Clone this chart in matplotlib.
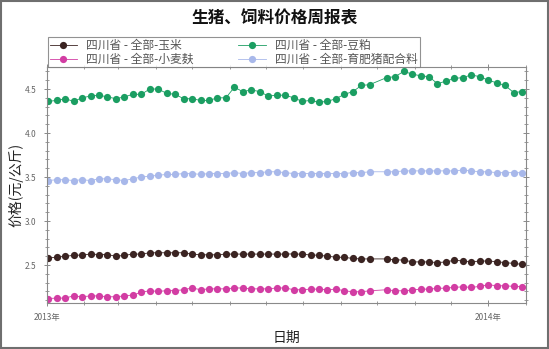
import numpy as np
import pandas as pd
import matplotlib
matplotlib.use("Agg")
import matplotlib.pyplot as plt
import matplotlib.dates as mdates
from matplotlib.patches import Rectangle

plt.rcParams['font.family'] = ['Noto Sans CJK SC', 'DejaVu Sans']

# Weekly quotations, Sichuan province (yuan / kg); None = no quote that week
start_date = "2013-01-02"
n_weeks = 57

corn = [2.58, 2.59, 2.60, 2.61, 2.615, 2.625, 2.62, 2.62, 2.60, 2.61,
        2.625, 2.625, 2.64, 2.64, 2.64, 2.64, 2.64, 2.625, 2.617, 2.617,
        2.617, 2.625, 2.625, 2.625, 2.625, 2.625, 2.625, 2.625, 2.625, 2.627,
        2.623, 2.615, 2.612, 2.60, 2.59, 2.588, 2.575, 2.57, 2.57, None,
        2.57, 2.56, 2.557, 2.536, 2.536, 2.536, 2.528, 2.536, 2.555, 2.547,
        2.538, 2.545, 2.547, 2.538, 2.528, 2.519, 2.508]

soymeal = [4.36, 4.37, 4.39, 4.36, 4.40, 4.42, 4.43, 4.41, 4.39, 4.41,
           4.44, 4.44, 4.50, 4.50, 4.45, 4.44, 4.39, 4.39, 4.37, 4.37,
           4.40, 4.40, 4.52, 4.47, 4.49, 4.47, 4.42, 4.43, 4.43, 4.40,
           4.36, 4.37, 4.35, 4.36, 4.39, 4.44, 4.47, 4.54, 4.55, None,
           4.63, 4.64, 4.70, 4.67, 4.65, 4.64, 4.56, 4.59, 4.62, 4.63,
           4.66, 4.64, 4.60, 4.57, 4.54, 4.46, 4.47]

bran = [2.12, 2.125, 2.125, 2.15, 2.14, 2.15, 2.15, 2.14, 2.14, 2.15,
        2.16, 2.19, 2.21, 2.20, 2.21, 2.21, 2.22, 2.24, 2.22, 2.23,
        2.23, 2.23, 2.24, 2.24, 2.23, 2.23, 2.23, 2.24, 2.24, 2.22,
        2.22, 2.227, 2.227, 2.22, 2.227, 2.208, 2.197, 2.197, 2.208, None,
        2.22, 2.208, 2.208, 2.216, 2.227, 2.227, 2.235, 2.239, 2.246, 2.254,
        2.246, 2.258, 2.277, 2.265, 2.265, 2.258, 2.254]

hog_feed = [3.46, 3.47, 3.47, 3.46, 3.47, 3.46, 3.48, 3.48, 3.47, 3.46,
            3.48, 3.50, 3.51, 3.52, 3.53, 3.53, 3.54, 3.54, 3.53, 3.54,
            3.54, 3.54, 3.55, 3.54, 3.55, 3.55, 3.56, 3.56, 3.55, 3.54,
            3.54, 3.54, 3.54, 3.54, 3.54, 3.54, 3.55, 3.55, 3.56, None,
            3.56, 3.56, 3.57, 3.57, 3.57, 3.57, 3.57, 3.57, 3.57, 3.58,
            3.57, 3.56, 3.56, 3.55, 3.55, 3.55, 3.55]

series_names = ["四川省 - 全部-玉米", "四川省 - 全部-小麦麸",
                "四川省 - 全部-豆粕", "四川省 - 全部-育肥猪配合料"]
series_values = [corn, bran, soymeal, hog_feed]
series_colors = ["#3b2422", "#d23da3", "#1b9e62", "#a8b8ea"]

dates = pd.date_range(start_date, periods=n_weeks, freq="7D")

fig = plt.figure(figsize=(5.49, 3.49), dpi=100)
ax = fig.add_axes([0.0856, 0.132, 0.872, 0.676])

for name, vals, col in zip(series_names, series_values, series_colors):
    s = pd.Series(vals, index=dates, dtype=float).dropna()
    ax.plot(s.index, s.values, color=col, lw=0.6, marker="o",
            markersize=5.2, markeredgewidth=0, label=name)

ax.set_xlim(pd.Timestamp("2013-01-01"), pd.Timestamp("2014-02-01"))
ax.set_ylim(2.07, 4.75)

ax.xaxis.set_major_locator(mdates.YearLocator())
ax.xaxis.set_major_formatter(mdates.DateFormatter("%Y年"))
ax.xaxis.set_minor_locator(mdates.MonthLocator())
ax.yaxis.set_major_locator(matplotlib.ticker.MultipleLocator(0.5))
ax.yaxis.set_minor_locator(matplotlib.ticker.MultipleLocator(0.1))
ax.yaxis.set_major_formatter(matplotlib.ticker.FormatStrFormatter("%.1f"))

for sp in ax.spines.values():
    sp.set_color("#8a8a8a")
    sp.set_linewidth(0.8)
ax.tick_params(which="both", direction="inout", colors="#8a8a8a",
               top=True, right=True, labelcolor="#666666", labelsize=6)
ax.tick_params(which="major", length=5, width=0.7)
ax.tick_params(which="minor", length=3, width=0.6)
ax.tick_params(axis="y", pad=5)
ax.tick_params(axis="x", pad=5)

ax.set_ylabel("价格(元/公斤)", fontsize=10, color="#222222")
ax.yaxis.set_label_coords(-0.05, 0.5)
ax.set_xlabel("日期", fontsize=10, color="#222222", labelpad=6)

leg = fig.legend(loc="upper left", bbox_to_anchor=(0.087, 0.893), ncol=2,
                 fontsize=8.5, frameon=True, fancybox=False,
                 borderpad=0.15, labelspacing=0.05, handlelength=2.3,
                 handletextpad=0.8, columnspacing=3.8, borderaxespad=0)
leg.get_frame().set_edgecolor("#777777")
leg.get_frame().set_linewidth(0.8)
for t in leg.get_texts():
    t.set_color("#555555")

fig.text(0.5, 0.948, "生猪、饲料价格周报表", ha="center", va="center",
         fontsize=12, fontweight="bold", color="#111111")

fig.patches.append(Rectangle((0.002, 0.003), 0.996, 0.994,
                             transform=fig.transFigure, fill=False,
                             edgecolor="#6f6f6f", linewidth=1.5))

fig.savefig("out.png", dpi=100)
